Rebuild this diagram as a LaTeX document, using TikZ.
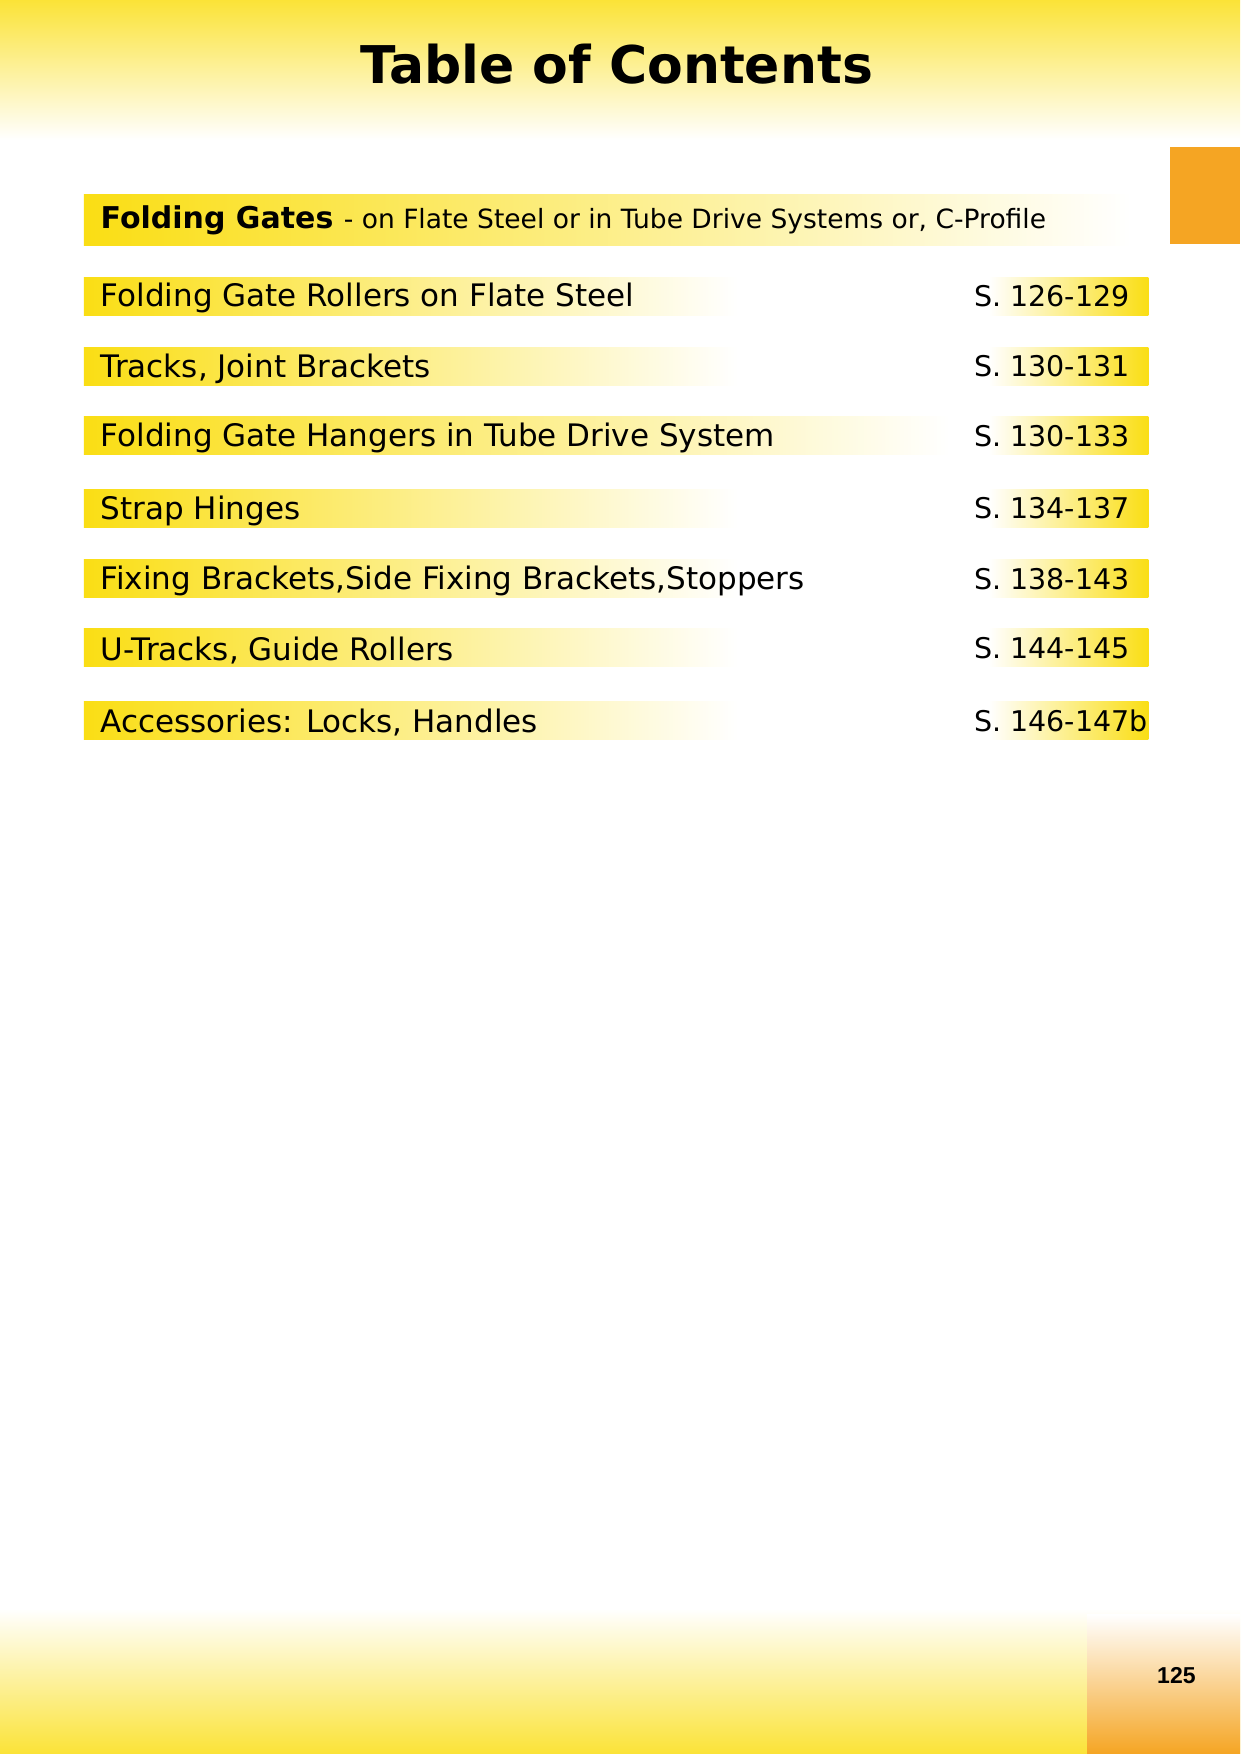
\documentclass[tikz,border=0pt]{standalone}
\usepackage{fontspec}
\setmainfont{DejaVu Sans}
\newfontfamily\arialf{Liberation Sans}
\begin{document}
\begin{tikzpicture}[x=1.1171pt,y=-1.1171pt,
  rowtxt/.style={anchor=west,inner sep=0pt,font=\fontsize{31}{34}\selectfont},
  pgtxt/.style={anchor=west,inner sep=0pt,font=\fontsize{28.5}{32}\selectfont}]
\definecolor{ylw}{RGB}{250,222,20}
\definecolor{org}{RGB}{245,165,35}
\useasboundingbox (0,0) rectangle (1110,1570);
\fill[white] (0,0) rectangle (1110,1570);
\shade[top color=ylw!85,bottom color=white] (0,0) rectangle (1110,125);
\shade[top color=white,bottom color=ylw!85] (0,1440) rectangle (1110,1570);
\shade[top color=white,bottom color=org] (973,1445) rectangle (1110,1570);
\fill[org] (1047,132) rectangle (1110,218);
\node[font=\fontsize{52}{58}\bfseries\selectfont] (title) at (552,57) {Table of Contents};
\shade[left color=ylw,right color=white] (75,174) rectangle (1012,220);
\node[anchor=west,inner sep=0pt] (hdr) at (90,197) {\fontsize{30}{34}\bfseries\selectfont Folding Gates \fontsize{26.5}{30}\mdseries\selectfont - on Flate Steel or in Tube Drive Systems or, C-Profile};
\foreach \y/\t/\p/\e in {265/Folding Gate Rollers on Flate Steel/126-129/660,
  328/{Tracks, Joint Brackets}/130-131/660,
  390/Folding Gate Hangers in Tube Drive System/130-133/850,
  455/Strap Hinges/134-137/660,
  518/{Fixing Brackets,Side Fixing Brackets,Stoppers}/138-143/660,
  580/{U-Tracks, Guide Rollers}/144-145/660,
  645/{Accessories: Locks, Handles}/146-147b/660}{
  \shade[left color=ylw,right color=white] (75,\y-17) rectangle (\e,\y+17);
  \shade[left color=white,right color=ylw] (885,\y-17) rectangle (1028,\y+17);
  \node[rowtxt] (r\y) at (90,\y+2) {\t};
  \node[pgtxt] (p\y) at (872,\y) {S. \p};
}
\node[font=\arialf\fontsize{23}{26}\bfseries\selectfont] (pg) at (1053,1500) {125};
\end{tikzpicture}
\end{document}
